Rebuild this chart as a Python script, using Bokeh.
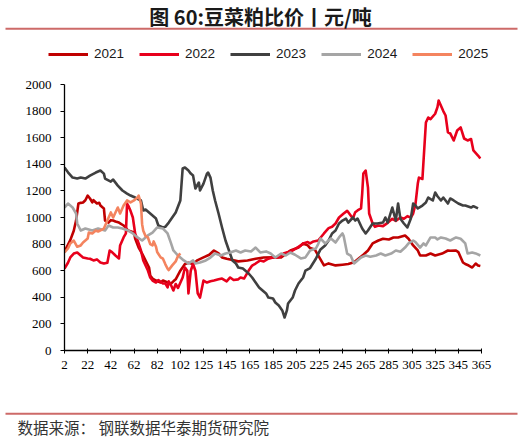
from bokeh.plotting import figure
from bokeh.layouts import column
from bokeh.models import Range1d, FixedTicker, Legend, LegendItem, Label
from bokeh.embed import file_html
from bokeh.resources import INLINE

title_text = "图 60:豆菜粕比价丨元/吨"
source_text = "数据来源： 钢联数据华泰期货研究院"
series_names = ["2021", "2022", "2023", "2024", "2025"]
series_colors = ["#C00000", "#E8001C", "#404040", "#A5A5A5", "#F4845F"]
tick_positions = list(range(0, 361, 20))
tick_labels = ["2", "22", "42", "62", "82", "102", "125", "145", "165", "185",
               "205", "225", "245", "265", "285", "305", "325", "345", "365"]
y_ticks = list(range(0, 2001, 200))

idx_2021 = [0, 1, 5, 8, 10, 11, 12, 14, 16, 18, 20, 22, 24, 25, 28, 30, 31, 33, 34, 35, 38, 40, 42, 44, 47,
            51, 55, 60, 61, 64, 67, 70, 73, 74, 76, 79, 83, 85, 89, 92, 94, 96, 100, 104, 107, 111, 115,
            120, 125, 129, 133, 136, 140, 145, 150, 158, 165, 172, 180, 187, 195, 202, 206, 210, 212, 216,
            220, 224, 228, 234, 240, 245, 250, 254, 258, 262, 266, 271, 275, 280, 284, 288, 294, 297, 301,
            305, 307, 312, 316, 320, 326, 331, 333, 338, 340, 344, 346, 349, 352, 355, 357, 359]
val_2021 = [750, 760, 830, 900, 977, 1040, 1105, 1110, 1113, 1130, 1165, 1143, 1113, 1130, 1105, 1110, 1090,
            1075, 1068, 977, 962, 980, 977, 970, 962, 940, 902, 887, 842, 774, 729, 677, 624, 564, 541, 526,
            511, 526, 511, 504, 520, 535, 600, 650, 660, 650, 680, 700, 720, 752, 730, 700, 690, 680, 670,
            677, 690, 699, 700, 699, 752, 774, 805, 790, 770, 760, 700, 640, 655, 640, 645, 650, 663, 692,
            720, 752, 805, 827, 840, 835, 850, 850, 865, 840, 790, 752, 714, 714, 729, 714, 729, 752, 750,
            752, 740, 662, 650, 639, 624, 654, 639, 635]

idx_2022 = [0, 3, 5, 8, 11, 14, 16, 20, 22, 25, 28, 31, 34, 37, 39, 41, 44, 47, 48, 51, 53, 54, 55, 57, 59,
            61, 64, 66, 68, 72, 74, 76, 79, 81, 85, 87, 89, 90, 92, 94, 96, 98, 102, 104, 106, 107, 109,
            111, 113, 115, 117, 120, 123, 126, 129, 133, 136, 140, 143, 146, 150, 152, 155, 159, 162, 165,
            169, 172, 176, 180, 184, 187, 189, 193, 197, 201, 204, 206, 210, 212, 215, 219, 224, 228, 231,
            234, 237, 241, 244, 245, 249, 251, 253, 256, 257, 258, 260, 262, 263, 266, 268, 271, 275, 279,
            283, 286, 290, 293, 296, 299, 301, 303, 305, 306, 309, 312, 314, 316, 320, 322, 323, 325, 327,
            329, 331, 333, 336, 339, 342, 345, 348, 351, 353, 357, 359]
val_2022 = [616, 660, 700, 729, 737, 714, 700, 692, 690, 677, 685, 662, 654, 660, 752, 740, 714, 692, 790,
            850, 880, 1105, 1090, 1050, 1000, 880, 805, 752, 677, 601, 549, 526, 511, 530, 504, 504, 474,
            520, 490, 451, 500, 470, 549, 624, 600, 429, 600, 650, 600, 429, 398, 526, 511, 520, 526, 535,
            541, 520, 549, 530, 535, 549, 541, 601, 639, 654, 677, 670, 690, 699, 699, 710, 729, 740, 752,
            774, 790, 805, 815, 805, 820, 827, 880, 920, 930, 955, 1000, 1030, 1050, 1040, 992, 1040, 1053,
            1068, 1180, 1330, 1353, 1225, 1030, 955, 930, 940, 935, 960, 990, 975, 1000, 990, 1010, 1000,
            1030, 1100, 1255, 1300, 1290, 1714, 1752, 1740, 1780, 1830, 1880, 1840, 1800, 1767, 1640, 1632,
            1579, 1654, 1677, 1594, 1579, 1590, 1504, 1466, 1443]

idx_2023 = [0, 3, 7, 11, 14, 18, 22, 27, 31, 34, 35, 40, 42, 46, 50, 54, 57, 61, 66, 68, 70, 74, 79, 81, 85,
            87, 90, 96, 100, 102, 104, 107, 109, 111, 113, 116, 117, 120, 123, 124, 126, 128, 130, 133, 136,
            139, 142, 145, 148, 150, 154, 156, 159, 162, 165, 168, 171, 174, 176, 180, 182, 185, 188, 190,
            192, 193, 197, 199, 202, 206, 208, 212, 217, 221, 225, 228, 231, 234, 237, 240, 243, 245, 249,
            251, 253, 257, 260, 262, 266, 270, 275, 277, 279, 283, 286, 288, 290, 293, 296, 299, 301, 303,
            305, 309, 312, 314, 318, 320, 322, 325, 327, 331, 333, 336, 340, 344, 346, 351, 353, 357]
val_2023 = [1376, 1340, 1300, 1293, 1300, 1293, 1315, 1338, 1353, 1330, 1293, 1270, 1285, 1240, 1203, 1180,
            1165, 1150, 1128, 1053, 1060, 1030, 992, 940, 925, 930, 962, 1038, 1128, 1368, 1376, 1353, 1330,
            1315, 1218, 1263, 1203, 1255, 1330, 1338, 1300, 1203, 1128, 1030, 925, 827, 752, 677, 654, 624,
            616, 601, 579, 549, 511, 474, 451, 429, 398, 391, 361, 338, 301, 248, 301, 353, 398, 451, 504,
            549, 601, 620, 690, 760, 790, 827, 880, 902, 955, 977, 992, 962, 1000, 977, 992, 917, 880, 902,
            955, 955, 962, 1000, 962, 1075, 977, 1105, 990, 955, 925, 992, 1105, 1090, 1068, 1090, 1113,
            1150, 1128, 1188, 1160, 1128, 1150, 1105, 1143, 1128, 1105, 1090, 1090, 1075, 1085, 1068]

idx_2024 = [0, 3, 7, 10, 11, 14, 18, 24, 29, 35, 38, 42, 46, 50, 55, 59, 63, 67, 72, 76, 80, 85, 89, 92, 94,
            98, 103, 107, 111, 113, 117, 122, 126, 130, 135, 139, 143, 148, 152, 156, 161, 165, 169, 174,
            178, 182, 187, 191, 195, 199, 204, 208, 212, 217, 219, 221, 225, 230, 234, 237, 240, 241, 244,
            247, 250, 253, 256, 260, 264, 269, 273, 277, 282, 286, 290, 294, 297, 301, 303, 307, 310, 312,
            316, 320, 322, 325, 329, 333, 338, 342, 346, 348, 352, 355, 359]
val_2024 = [1075, 1105, 1075, 1030, 955, 902, 917, 902, 917, 902, 940, 925, 925, 917, 902, 880, 850, 827,
            865, 887, 925, 917, 880, 805, 752, 714, 677, 654, 677, 654, 662, 677, 699, 729, 714, 729, 737,
            752, 737, 752, 745, 774, 737, 745, 729, 699, 729, 714, 737, 720, 692, 700, 752, 767, 800, 842,
            805, 842, 812, 850, 880, 860, 729, 714, 654, 677, 699, 714, 705, 714, 729, 714, 729, 752, 742,
            774, 805, 827, 815, 774, 805, 790, 850, 850, 835, 850, 842, 827, 850, 840, 805, 729, 737, 730,
            714]

idx_2025 = [0, 3, 5, 8, 11, 14, 16, 20, 21, 24, 27, 29, 34, 37, 40, 42, 46, 48, 51, 54, 57, 60, 63, 64, 66,
            67, 68, 70, 72, 74, 76, 77, 79, 80, 83, 85, 87, 89, 90, 93, 96, 98, 100]
val_2025 = [737, 767, 805, 827, 780, 790, 812, 842, 887, 880, 902, 895, 917, 977, 1038, 1000, 1075, 1030,
            1090, 1128, 1113, 1128, 1150, 1165, 1105, 950, 900, 860, 850, 800, 790, 820, 780, 740, 700, 690,
            650, 615, 605, 640, 670, 710, 730]

series_idx = [idx_2021, idx_2022, idx_2023, idx_2024, idx_2025]
series_val = [val_2021, val_2022, val_2023, val_2024, val_2025]

W = 522
TOP_H, MAIN_H, BOT_H = 70, 335, 34
RULE_COLOR = "#CD6A68"
NAN = float("nan")


def strip_fig(h):
    f = figure(width=W, height=h, output_backend="svg", toolbar_location=None,
               x_range=Range1d(0, W), y_range=Range1d(h, 0),
               x_axis_type=None, y_axis_type=None, min_border=0, frame_align=False)
    f.outline_line_color = None
    f.xgrid.visible = False
    f.ygrid.visible = False
    f.background_fill_color = "white"
    f.border_fill_color = "white"
    return f


# ---- header: title, rule and legend ----
top = strip_fig(TOP_H)
top.add_layout(Label(x=260, y=15.5, text=title_text, text_align="center", text_baseline="middle",
                     text_font="Noto Sans CJK SC", text_font_style="bold", text_font_size="20px",
                     text_color="#1a1a1a"))
top.segment(x0=[5], y0=[28.3], x1=[517], y1=[28.3], line_color=RULE_COLOR, line_width=2)

legend_items = []
for name, color in zip(series_names, series_colors):
    # legend-only swatch renderer (holds no visible data)
    r = top.line(x=[NAN], y=[NAN], line_color=color, line_width=3)
    legend_items.append(LegendItem(label=name, renderers=[r]))
legend = Legend(items=legend_items, orientation="horizontal", location=(48, 9),
                glyph_width=40, glyph_height=14, label_height=14, label_width=20,
                label_standoff=6, spacing=15, padding=0, margin=0,
                border_line_color=None, background_fill_alpha=0,
                label_text_font="Liberation Sans", label_text_font_size="13.5px",
                label_text_color="#1a1a1a")
top.add_layout(legend)

# ---- main chart ----
FL, FR, FT, FB = 64, 41, 14, 55
p = figure(width=W, height=MAIN_H, output_backend="svg", toolbar_location=None,
           x_range=Range1d(0, 360), y_range=Range1d(0, 2000), frame_align=False,
           min_border_left=FL, min_border_right=FR, min_border_top=FT, min_border_bottom=FB)
p.outline_line_color = None
p.xgrid.visible = False
p.ygrid.visible = False
p.background_fill_color = "white"
p.border_fill_color = "white"

for name, color, xs, ys in zip(series_names, series_colors, series_idx, series_val):
    p.line(xs, ys, line_color=color, line_width=2.6, line_join="round")

for ax in (p.xaxis[0], p.yaxis[0]):
    ax.axis_line_color = "black"
    ax.axis_line_width = 1.3
    ax.major_tick_line_color = "black"
    ax.minor_tick_line_color = None
    ax.major_label_text_font = "Liberation Serif"
    ax.major_label_text_font_size = "13px"
    ax.major_label_text_color = "#000000"

p.xaxis[0].ticker = FixedTicker(ticks=tick_positions)
p.xaxis[0].major_label_overrides = {t: l for t, l in zip(tick_positions, tick_labels)}
p.xaxis[0].major_tick_in = 2
p.xaxis[0].major_tick_out = 3
p.xaxis[0].major_label_standoff = 7
p.yaxis[0].ticker = FixedTicker(ticks=y_ticks)
p.yaxis[0].major_tick_in = 0
p.yaxis[0].major_tick_out = 4
p.yaxis[0].major_label_standoff = 9

# ---- footer: rule and source ----
bot = strip_fig(BOT_H)
bot.segment(x0=[5], y0=[8.3], x1=[517], y1=[8.3], line_color=RULE_COLOR, line_width=2)
bot.add_layout(Label(x=17, y=21.5, text=source_text, text_align="left", text_baseline="middle",
                     text_font="Noto Sans CJK SC", text_font_size="15.5px", text_color="#333333"))

layout = column(top, p, bot, spacing=0)
open("out.html", "w").write(file_html(layout, INLINE))
